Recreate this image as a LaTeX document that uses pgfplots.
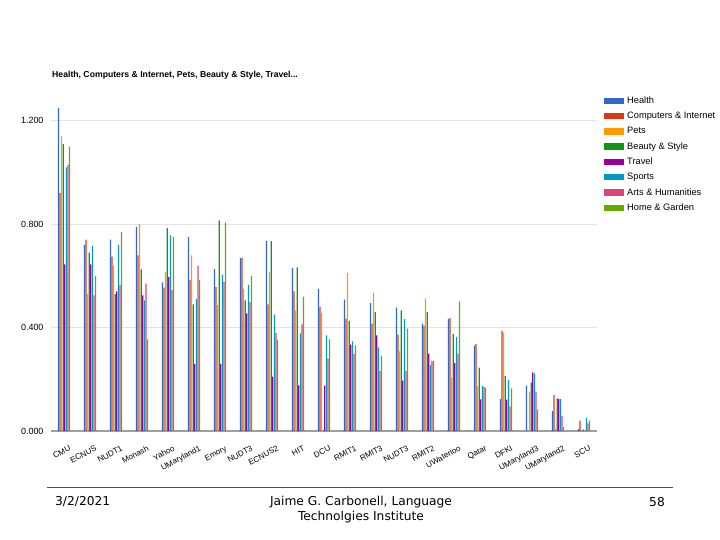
\documentclass[border=0pt]{standalone}
\usepackage{pgfplots}
\pgfplotsset{compat=1.18}
\usepackage{pgfplotstable}
\usepackage{fontspec}
\setmainfont{Liberation Sans}
\newfontfamily\footfont{DejaVu Sans}

\definecolor{cHealth}{HTML}{3366CC}
\definecolor{cComp}{HTML}{DC3912}
\definecolor{cPets}{HTML}{FF9900}
\definecolor{cBeauty}{HTML}{109618}
\definecolor{cTravel}{HTML}{990099}
\definecolor{cSports}{HTML}{0099C6}
\definecolor{cArts}{HTML}{DD4477}
\definecolor{cHome}{HTML}{66AA00}
\definecolor{footred}{HTML}{9B2D30}

% x  Health Computers Pets Beauty Travel Sports Arts Home
\pgfplotstableread{
x  H     C     P     B     T     S     A     G
0  1.250 0.920 1.140 1.110 0.645 1.020 1.030 1.100
1  0.720 0.740 0.530 0.690 0.645 0.715 0.525 0.600
2  0.740 0.675 0.640 0.530 0.540 0.720 0.565 0.770
3  0.790 0.680 0.800 0.625 0.525 0.505 0.570 0.355
4  0.575 0.555 0.615 0.785 0.595 0.757 0.545 0.750
5  0.750 0.585 0.680 0.490 0.260 0.510 0.640 0.585
6  0.626 0.557 0.487 0.815 0.260 0.605 0.576 0.807
7  0.670 0.670 0.550 0.505 0.455 0.565 0.500 0.600
8  0.735 0.490 0.615 0.735 0.210 0.450 0.380 0.353
9  0.630 0.540 0.466 0.633 0.177 0.378 0.413 0.520
10 0.550 0.480 0.458 0.000 0.176 0.370 0.280 0.355
11 0.508 0.435 0.612 0.426 0.334 0.347 0.298 0.331
12 0.495 0.415 0.535 0.460 0.370 0.324 0.232 0.291
13 0.477 0.373 0.308 0.467 0.195 0.433 0.232 0.396
14 0.415 0.408 0.512 0.461 0.299 0.256 0.272 0.270
15 0.434 0.437 0.207 0.375 0.263 0.364 0.299 0.502
16 0.330 0.336 0.174 0.245 0.122 0.174 0.171 0.168
17 0.123 0.387 0.381 0.212 0.121 0.197 0.095 0.165
18 0.176 0.000 0.152 0.187 0.227 0.223 0.152 0.084
19 0.077 0.139 0.010 0.126 0.124 0.123 0.058 0.015
20 0.008 0.040 0.000 0.005 0.000 0.050 0.030 0.041
}\scores

\begin{document}
\begin{tikzpicture}[x=1bp,y=1bp]
\path[use as bounding box] (0,0) rectangle (720,-540);

\node[anchor=west, inner sep=0pt, font=\bfseries\fontsize{8.7}{10}\selectfont]
  at (52,-75) {Health, Computers \& Internet, Pets, Beauty \& Style, Travel...};

\begin{axis}[
    at={(51bp,-431bp)}, anchor=south west,
    scale only axis, width=546bp, height=336bp,
    xmin=-0.5, xmax=20.5, ymin=0, ymax=1.3,
    ybar=0.35bp, bar width=1.25bp,
    axis x line*=bottom, axis y line*=left,
    x axis line style={draw=gray!75, line width=1.6bp, -},
    y axis line style={draw=none},
    major tick length=0pt,
    ytick={0,0.4,0.8,1.2},
    ymajorgrids, grid style={draw=gray!22, line width=0.9bp},
    yticklabel style={font=\fontsize{9}{10}\selectfont, xshift=-4bp},
    /pgf/number format/.cd, fixed, fixed zerofill, precision=3, assume math mode=true,
    /pgfplots/.cd,
    xtick=data,
    xticklabels={CMU,ECNUS,NUDT1,Monash,Yahoo,UMaryland1,Emory,NUDT3,ECNUS2,HIT,DCU,RMIT1,RMIT3,NUDT3,RMIT2,UWaterloo,Qatar,DFKI,UMaryland3,UMaryland2,SCU},
    xticklabel style={font=\fontsize{8.1}{9}\selectfont, rotate=28, anchor=north east, inner sep=0.5bp, yshift=-14bp, xshift=-2bp},
    legend style={at={(1,1)}, anchor=north west, xshift=7bp, yshift=0bp,
        draw=none, fill=none, inner sep=0pt, row sep=4.2bp,
        font=\fontsize{9.3}{10}\selectfont,
        nodes={inner sep=1.5bp, anchor=west}},
    legend cell align=left,
    legend image code/.code={\fill[#1] (0bp,-3.3bp) rectangle (19.5bp,3.3bp); \path (21.5bp,0bp);},
    every axis plot/.append style={draw=none},
]
\addplot[fill=cHealth]  table[x=x,y=H] {\scores};
\addplot[fill=cComp]    table[x=x,y=C] {\scores};
\addplot[fill=cPets]    table[x=x,y=P] {\scores};
\addplot[fill=cBeauty]  table[x=x,y=B] {\scores};
\addplot[fill=cTravel]  table[x=x,y=T] {\scores};
\addplot[fill=cSports]  table[x=x,y=S] {\scores};
\addplot[fill=cArts]    table[x=x,y=A] {\scores};
\addplot[fill=cHome]    table[x=x,y=G] {\scores};
\legend{Health,Computers \& Internet,Pets,Beauty \& Style,Travel,Sports,Arts \& Humanities,Home \& Garden}
\end{axis}

\draw[footred, line width=1bp] (47,-487) -- (673,-487);
\node[anchor=west, inner sep=0pt, font=\footfont\fontsize{12.3}{15}\selectfont] at (55,-502) {3/2/2021};
\node[align=center, inner sep=0pt, font=\footfont\fontsize{12.3}{15}\selectfont] at (361,-509.5) {Jaime G. Carbonell, Language\\Technolgies Institute};
\node[anchor=east, inner sep=0pt, font=\footfont\fontsize{12.3}{15}\selectfont] at (665,-502) {58};
\end{tikzpicture}
\end{document}
